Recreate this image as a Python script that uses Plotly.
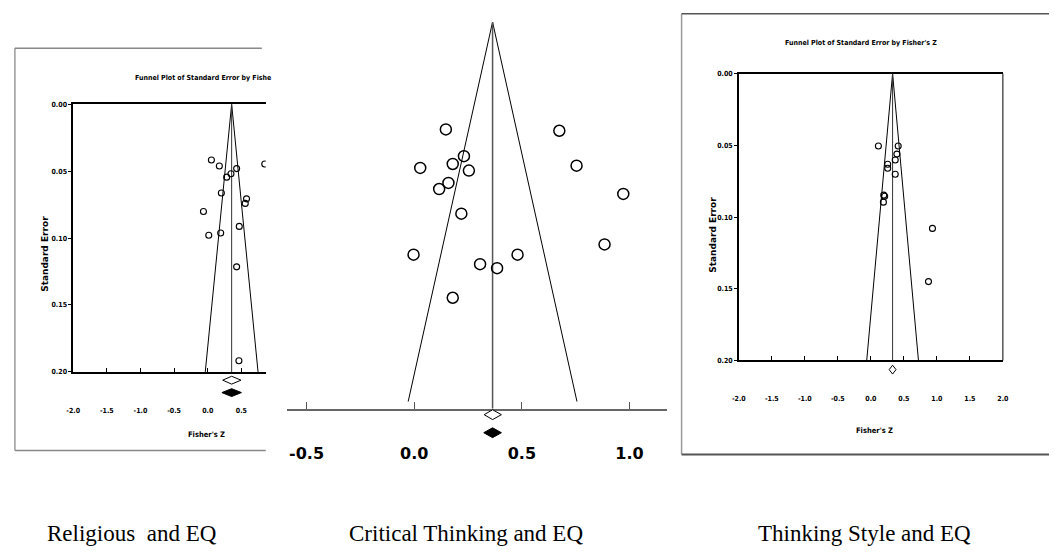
import plotly.graph_objects as go

W, H = 1055, 553

# ---------------- data ----------------
# Panel 1: Religious and EQ (Fisher's Z, standard error)
rel_z = [0.054, 0.172, 0.429, 0.345, 0.281, 0.847, 0.202, 0.576, 0.557,
         -0.064, 0.468, 0.015, 0.192, 0.429, 0.463]
rel_se = [0.0417, 0.0461, 0.0481, 0.0520, 0.0545, 0.0447, 0.0663, 0.0707, 0.0741,
          0.0802, 0.0913, 0.0979, 0.0962, 0.1215, 0.1917]
rel_est = 0.355
rel_ci_open = [0.222, 0.493]
rel_ci_filled = [0.210, 0.500]

# Panel 2: Critical Thinking and EQ
ct_z = [0.147, 0.674, 0.231, 0.179, 0.028, 0.254, 0.754, 0.159, 0.116,
        0.971, 0.219, 0.884, -0.003, 0.480, 0.306, 0.385, 0.179]
ct_se = [0.0566, 0.0573, 0.0707, 0.0748, 0.0769, 0.0783, 0.0757, 0.0848, 0.0880,
         0.0906, 0.1010, 0.1172, 0.1226, 0.1226, 0.1276, 0.1297, 0.1453]
ct_est = 0.364
ct_ci_open = [0.325, 0.405]
ct_ci_filled = [0.323, 0.405]

# Panel 3: Thinking Style and EQ
ts_z = [0.114, 0.414, 0.394, 0.369, 0.255, 0.255, 0.369, 0.195, 0.209, 0.190, 0.933, 0.873]
ts_se = [0.0504, 0.0504, 0.0561, 0.0602, 0.0632, 0.0660, 0.0701, 0.0847, 0.0855, 0.0896,
         0.1079, 0.1450]
ts_est = 0.329
ts_ci_open = [0.277, 0.381]

se_max = 0.2
z_crit = 1.96

small_ticks = [-2.0, -1.5, -1.0, -0.5, 0.0, 0.5, 1.0, 1.5, 2.0]
small_ticktext = ["-2.0", "-1.5", "-1.0", "-0.5", "0.0", "0.5", "1.0", "1.5", "2.0"]
se_ticks = [0.0, 0.05, 0.10, 0.15, 0.20]
se_ticktext = ["0.00", "0.05", "0.10", "0.15", "0.20"]
mid_ticks = [-0.5, 0.0, 0.5, 1.0]
mid_ticktext = ["-0.5", "0.0", "0.5", "1.0"]

captions = ["Religious\u00a0 and EQ", "Critical Thinking and EQ", "Thinking Style and EQ"]
title_full = "Funnel Plot of Standard Error by Fisher's Z"
title_cut = "Funnel Plot of Standard Error by Fishe"

# ---------------- helpers ----------------
def px(x):
    return x / W

def py(y):
    return 1 - y / H

NARROW = "Liberation Sans Narrow, DejaVu Sans Condensed, Arial Narrow, sans-serif"

def diamond(lo, est, hi, yc, hh):
    return [lo, est, hi, est, lo], [yc, yc - hh, yc, yc + hh, yc]

fig = go.Figure()

def funnel(est, xa, ya, center_to, color_c="black", wc=1):
    fig.add_trace(go.Scatter(
        x=[est - z_crit * se_max, est, est + z_crit * se_max],
        y=[se_max, 0, se_max], mode="lines",
        line=dict(color="black", width=1), xaxis=xa, yaxis=ya,
        hoverinfo="skip", showlegend=False))
    fig.add_trace(go.Scatter(
        x=[est, est], y=[0, center_to], mode="lines",
        line=dict(color=color_c, width=wc), xaxis=xa, yaxis=ya,
        hoverinfo="skip", showlegend=False))

# Panel 1
funnel(rel_est, "x", "y", se_max, "#333", 1)
fig.add_trace(go.Scatter(x=rel_z, y=rel_se, mode="markers", xaxis="x", yaxis="y",
                         marker=dict(symbol="circle-open", size=6, color="black",
                                     line=dict(width=1.1)), showlegend=False))
dx, dy = diamond(rel_ci_open[0], rel_est, rel_ci_open[1], 381.7, 4)
fig.add_trace(go.Scatter(x=dx, y=dy, mode="lines", fill="toself", fillcolor="white",
                         line=dict(color="black", width=1), xaxis="x", yaxis="y4",
                         showlegend=False, hoverinfo="skip"))
dx, dy = diamond(rel_ci_filled[0], rel_est, rel_ci_filled[1], 394.3, 4)
fig.add_trace(go.Scatter(x=dx, y=dy, mode="lines", fill="toself", fillcolor="black",
                         line=dict(color="black", width=1), xaxis="x", yaxis="y4",
                         showlegend=False, hoverinfo="skip"))

# Panel 2
y2_bottom = 0.2038
funnel(ct_est, "x2", "y2", y2_bottom, "#555", 1.5)
fig.add_trace(go.Scatter(x=ct_z, y=ct_se, mode="markers", xaxis="x2", yaxis="y2",
                         marker=dict(symbol="circle-open", size=11, color="black",
                                     line=dict(width=1.5)), showlegend=False))
dx, dy = diamond(ct_ci_open[0], ct_est, ct_ci_open[1], 416.7, 5)
fig.add_trace(go.Scatter(x=dx, y=dy, mode="lines", fill="toself", fillcolor="white",
                         line=dict(color="black", width=1), xaxis="x2", yaxis="y5",
                         showlegend=False, hoverinfo="skip"))
dx, dy = diamond(ct_ci_filled[0], ct_est, ct_ci_filled[1], 435, 5)
fig.add_trace(go.Scatter(x=dx, y=dy, mode="lines", fill="toself", fillcolor="black",
                         line=dict(color="black", width=1), xaxis="x2", yaxis="y5",
                         showlegend=False, hoverinfo="skip"))

# Panel 3
funnel(ts_est, "x3", "y3", se_max, "#333", 1)
fig.add_trace(go.Scatter(x=ts_z, y=ts_se, mode="markers", xaxis="x3", yaxis="y3",
                         marker=dict(symbol="circle-open", size=6, color="black",
                                     line=dict(width=1.1)), showlegend=False))
dx, dy = diamond(ts_ci_open[0], ts_est, ts_ci_open[1], 371, 4.5)
fig.add_trace(go.Scatter(x=dx, y=dy, mode="lines", fill="toself", fillcolor="white",
                         line=dict(color="black", width=1), xaxis="x3", yaxis="y6",
                         showlegend=False, hoverinfo="skip"))

small_font = dict(family=NARROW, size=7, color="black", weight="bold")

def small_x(domain, rng, mirror, standoff):
    return dict(domain=domain, range=rng, showline=True, mirror=mirror, linecolor="black",
                linewidth=2, ticks="inside", ticklen=4, tickwidth=1, tickcolor="black",
                tickvals=small_ticks, ticktext=small_ticktext, tickfont=small_font,
                ticklabelstandoff=standoff, showgrid=False, zeroline=False, fixedrange=True)

def small_y(domain):
    return dict(domain=domain, range=[0.2, 0], showline=True, linecolor="black", linewidth=1.5,
                ticks="outside", ticklen=3, tickwidth=1, tickcolor="black",
                tickvals=se_ticks, ticktext=se_ticktext, tickfont=small_font,
                showgrid=False, zeroline=False, fixedrange=True)

layout = dict(
    width=W, height=H, margin=dict(l=0, r=0, t=0, b=0),
    paper_bgcolor="white", plot_bgcolor="rgba(0,0,0,0)", showlegend=False,
    xaxis=dict(small_x([px(67), px(262)], [-2.0, 0.862], True, 31), anchor="y"),
    yaxis=dict(small_y([py(373.3), py(101.7)]), anchor="x"),
    xaxis2=dict(domain=[px(283), px(668)], range=[-0.593, 1.173], anchor="y2",
                showline=True, linecolor="#666", linewidth=1.5, ticks="inside",
                ticklen=7, tickwidth=1.2, tickcolor="#555",
                tickvals=mid_ticks, ticktext=mid_ticktext,
                tickfont=dict(family="DejaVu Sans", size=16, color="black", weight="bold"),
                ticklabelstandoff=29, showgrid=False, zeroline=False, fixedrange=True),
    yaxis2=dict(domain=[py(410.7), py(18.3)], range=[y2_bottom, 0], anchor="x2",
                visible=False, fixedrange=True),
    xaxis3=dict(small_x([px(741), px(1008.3)], [-2.0, 2.0], True, 30), anchor="y3"),
    yaxis3=dict(small_y([py(361.7), py(70.7)]), anchor="x3"),
    yaxis4=dict(domain=[py(400), py(374)], range=[400, 374], anchor="x", visible=False,
                fixedrange=True),
    yaxis5=dict(domain=[py(442), py(411)], range=[442, 411], anchor="x2", visible=False,
                fixedrange=True),
    yaxis6=dict(domain=[py(378), py(363)], range=[378, 363], anchor="x3", visible=False,
                fixedrange=True),
)
fig.update_layout(**layout)

# frames
frame = []
def seg(x0, y0, x1, y1, color, w):
    frame.append(dict(type="line", xref="paper", yref="paper", x0=px(x0), y0=py(y0),
                      x1=px(x1), y1=py(y1), line=dict(color=color, width=w)))
seg(8, 45, 8, 453, "#999", 1.5)
seg(8, 45, 258, 45, "#888", 1.5)
seg(8, 453, 262, 453, "#888", 1.5)
seg(683, 10, 683, 457, "#999", 1.5)
seg(683, 10, 1055, 10, "#555", 1.5)
seg(683, 457, 1055, 457, "#555", 2)
frame.append(dict(type="line", xref="x3 domain", yref="y3 domain", x0=1, x1=1, y0=0, y1=1,
                  line=dict(color="black", width=1)))
fig.update_layout(shapes=frame)

ann = []
def text(x, y, s, font, xanchor="center", angle=0):
    ann.append(dict(x=px(x), y=py(y), xref="paper", yref="paper", text=s, showarrow=False,
                    xanchor=xanchor, yanchor="middle", font=font, textangle=angle))

title_font = dict(family=NARROW, size=7, color="black", weight="bold")
lab_font = dict(family=NARROW, size=7.5, color="black", weight="bold")
se_font = dict(family="DejaVu Sans", size=9, color="black", weight="bold")
cap_font = dict(family="Liberation Serif", size=23, color="black")

text(128, 75, title_cut, title_font, "left")
text(865, 40, title_full, title_font)
text(39, 254, "Standard Error", se_font, angle=-90)
text(714, 234, "Standard Error", se_font, angle=-90)
text(202, 437, "Fisher's Z", lab_font)
text(878, 433, "Fisher's Z", lab_font)
text(127, 537, captions[0], cap_font)
text(465, 537, captions[1], cap_font)
text(868, 537, captions[2], cap_font)
fig.update_layout(annotations=ann)

fig.write_html("out.html", config={"displayModeBar": False},
               post_script="document.body.style.margin='0';")
